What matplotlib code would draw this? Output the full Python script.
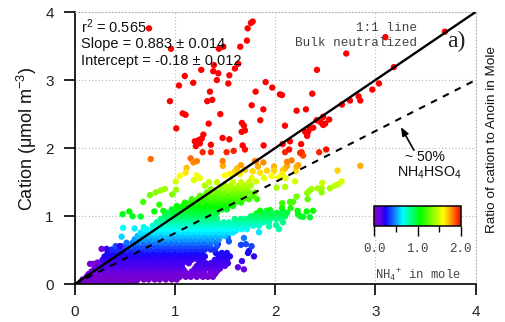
import matplotlib
matplotlib.use("Agg")
import matplotlib.pyplot as plt
from matplotlib.colors import LinearSegmentedColormap
from matplotlib.ticker import MultipleLocator

plt.rcParams['font.family'] = ['Liberation Sans', 'DejaVu Sans']
plt.rcParams['mathtext.default'] = 'regular'

# sparse red / orange / yellow / green points read one by one
red_pts = [(0.743,3.76),(0.962,3.46),(1.777,3.86),(1.76,3.84),(1.727,3.76),(1.72,3.58),(1.653,3.49),(1.484,3.49),(1.44,3.46),
 (1.39,3.22),(1.633,3.24),(1.60,3.17),(1.544,3.07),(1.534,2.95),(1.434,3.10),(1.384,3.13),(1.42,3.0),(1.264,3.15),(1.10,3.06),
 (1.184,2.96),(1.042,2.92),(0.952,2.69),(1.351,2.83),(1.324,2.69),(1.374,2.71),(1.767,2.63),(1.806,2.83),(1.906,2.97),(1.972,2.89),
 (2.049,2.79),(1.883,2.57),(1.853,2.41),(1.454,2.50),(1.079,2.51),(1.108,2.49),(1.338,2.36),(1.015,2.29),(1.67,2.37),(1.69,2.33),
 (1.667,2.24),(1.70,2.26),(1.477,2.15),(1.544,2.13),(1.886,2.04),(1.285,2.20),(1.268,2.14),(1.224,2.10),(1.25,2.07),(1.21,2.03),
 (1.24,2.12),(1.20,2.10),(1.36,2.05),(1.677,2.04),
 (3.694,3.71),(3.10,3.63),(2.71,3.39),(2.418,3.15),(3.185,3.19),(3.036,2.95),(2.97,2.86),(2.833,2.76),(2.85,2.70),(2.747,2.70),
 (2.667,2.64),(2.371,2.80),(2.069,2.78),(2.308,2.57),(2.215,2.55),(2.099,2.33),(2.54,2.42),(2.48,2.46),(2.455,2.38),(2.48,2.34),
 (2.415,2.41),(2.348,2.29),(2.30,2.24),(2.32,2.18),(2.38,2.30),(2.149,2.10),(2.076,2.06),(2.33,2.24),(2.50,2.36),(2.26,2.06)]
orange_pts = [(0.76,1.84),(1.158,1.85),(1.185,1.79),(1.22,1.81),(1.278,1.94),(1.36,1.94),(1.517,1.94),(1.587,1.96),(1.70,1.98),
 (1.81,1.81),(2.10,1.94),(2.14,1.98),(2.265,1.94),(2.28,1.89),(2.25,1.93),(2.44,1.94),(2.51,1.98),(2.165,1.82),(2.12,1.80),
 (2.23,1.75),(2.215,1.73),(1.477,1.81),(1.66,1.75)]
yellow_pts = [(1.883,1.79),(1.83,1.73),(1.80,1.81),(1.99,1.73),(1.99,1.67),(1.92,1.67),(1.85,1.64),(1.777,1.66),(2.08,1.68),
 (2.10,1.70),(2.12,1.74),(2.07,1.62),(2.205,1.66),(2.624,1.67),(2.85,1.74),(1.767,1.56),(1.89,1.56),(1.81,1.51),(1.966,1.59),
 (2.105,1.56),(2.04,1.57),(2.20,1.51),(2.015,1.42),(2.10,1.43),(1.218,1.60),(1.25,1.56),(1.19,1.53),(1.05,1.59),(1.01,1.51),
 (1.118,1.71),(1.108,1.64),(1.55,1.62),(1.60,1.66),(1.65,1.62),(1.70,1.68),(1.50,1.60),(1.62,1.70),(1.48,1.74)]
green_pts = [(2.47,1.49),(2.465,1.41),(2.425,1.41),(2.465,1.35),(2.365,1.40),(2.32,1.34),(2.34,1.37),(2.325,1.25),(2.547,1.41),
 (2.597,1.45),(2.63,1.47),(2.664,1.51),(2.215,1.29),(2.149,1.21),(2.18,1.21),(2.07,1.19),(2.07,1.12),(2.155,1.12),(2.08,1.07),
 (2.225,1.08),(2.315,1.07),(2.38,1.08),(2.25,1.0),(2.348,0.985),(2.23,1.03),(2.28,0.99),(1.916,1.08),(1.95,1.09),(1.85,1.08),
 (1.99,1.02),(1.816,1.04),(1.883,1.02),(1.767,1.0),(0.902,1.40),(0.86,1.38),(0.81,1.35),(0.753,1.31),(0.685,1.21),(0.975,1.32),
 (1.012,1.39),(0.845,1.17),(0.796,1.07),(0.886,1.08),(0.48,1.03),(0.546,1.07),(0.58,1.0),(0.66,0.995)]
# sparse lower-right points and cyan stragglers: x, y, colour value
outer_pts = [(1.79,0.41,.22),(1.73,0.46,.26),(1.74,0.49,.28),(1.766,0.56,.36),(1.71,0.59,.38),(1.66,0.58,.36),(1.69,0.68,.46),(1.84,0.765,.62),(1.67,0.34,.2),
 (1.63,0.25,.14),(1.69,0.22,.12),(1.53,0.69,.44),(1.54,0.63,.4),(1.43,0.59,.32),(1.61,0.79,.62),(1.94,0.85,.8),(2.01,0.87,.82),(2.04,0.81,.8),(2.08,0.91,.86),
 (0.47,0.70,.6),(0.485,0.83,.66),(0.60,0.82,.64),(0.69,0.84,.7)]
# purple outliers on the left edge: low ammonium although high on the y axis
outlier_x = [0.27, 0.155, 0.19, 0.23, 0.32, 0.45]
outlier_y = [0.52, 0.30, 0.30, 0.32, 0.52, 0.56]
outlier_c = [0.06, 0.06, 0.06, 0.10, 0.22, 0.22]

# dense cloud, read row by row (y value, colour value, x values in that row)
dense_rows = [
 (0.03,.01,[.06,.11,.16,.22,.27,.33,.38,.44,.49,.55,.61]),
 (0.07,.02,[.08,.13,.19,.24,.30,.35,.41,.46,.52,.58,.63,.69,.74,.80,.85,.91,.97,1.02]),
 (0.11,.04,[.12,.17,.23,.28,.34,.39,.45,.50,.56,.61,.67,.72,.78,.83,.89,.94,1.0,1.05,1.11,1.16,1.22,1.28,1.33,1.38]),
 (0.15,.07,[.14,.20,.25,.31,.36,.42,.48,.53,.59,.64,.70,.75,.81,.86,.92,.97,1.03,1.08,1.14,1.19,1.25,1.30,1.36,1.40]),
 (0.19,.10,[.17,.22,.28,.33,.39,.44,.50,.55,.61,.66,.72,.77,.83,.88,.94,.99,1.05,1.10,1.17,1.23,1.29,1.36,1.42]),
 (0.23,.14,[.20,.26,.31,.37,.42,.48,.53,.59,.65,.70,.76,.81,.87,.92,.98,1.03,1.08,1.20,1.26,1.31,1.38,1.45]),
 (0.27,.16,[.22,.28,.33,.39,.44,.50,.56,.61,.67,.72,.78,.83,.89,.95,1.0,1.06,1.22,1.28,1.34,1.40,1.46,1.50]),
 (0.31,.18,[.25,.30,.36,.41,.47,.52,.58,.63,.69,.74,.80,.85,.91,.96,1.02,1.08,1.14,1.25,1.31,1.36,1.42,1.48,1.53]),
 (0.36,.20,[.28,.33,.39,.44,.50,.55,.61,.66,.72,.77,.83,.88,.94,.99,1.05,1.11,1.17,1.23,1.28,1.40,1.46,1.52]),
 (0.41,.24,[.30,.36,.41,.47,.52,.58,.63,.69,.74,.80,.86,.91,.97,1.02,1.08,1.13,1.19,1.24,1.30,1.44,1.50,1.55]),
 (0.46,.28,[.33,.39,.45,.50,.56,.61,.67,.72,.78,.83,.89,.94,1.0,1.05,1.11,1.16,1.22,1.27,1.41,1.47,1.52]),
 (0.51,.33,[.37,.42,.48,.53,.59,.64,.70,.75,.81,.86,.92,.97,1.03,1.08,1.14,1.19,1.25,1.30,1.36,1.40]),
 (0.56,.38,[.41,.47,.52,.58,.63,.69,.74,.80,.85,.91,.96,1.02,1.07,1.13,1.18,1.24,1.29,1.35,1.42]),
 (0.61,.44,[.52,.58,.63,.69,.75,.80,.86,.91,.97,1.02,1.08,1.13,1.19,1.24,1.30,1.35,1.41]),
 (0.66,.50,[.60,.66,.71,.77,.82,.88,.93,.99,1.04,1.10,1.15,1.21,1.26,1.32,1.37,1.44]),
 (0.71,.56,[.63,.69,.74,.80,.85,.91,.96,1.02,1.07,1.13,1.18,1.24,1.29,1.35,1.40,1.46,1.50]),
 (0.76,.62,[.66,.72,.78,.83,.89,.94,1.0,1.05,1.11,1.16,1.22,1.27,1.33,1.38,1.44,1.49,1.55,1.58]),
 (0.81,.66,[.72,.78,.84,.89,.95,1.0,1.06,1.11,1.17,1.22,1.28,1.33,1.39,1.44,1.50,1.55,1.61,1.67,1.72]),
 (0.86,.72,[.78,.84,.90,.95,1.01,1.06,1.12,1.17,1.23,1.28,1.34,1.39,1.45,1.50,1.56,1.61,1.67,1.72,1.78,1.84]),
 (0.91,.78,[.82,.88,.94,.99,1.05,1.10,1.16,1.21,1.27,1.32,1.38,1.43,1.49,1.54,1.60,1.65,1.71,1.76,1.82,1.88,1.94]),
 (0.96,.84,[.86,.92,.98,1.03,1.09,1.14,1.20,1.25,1.31,1.36,1.42,1.60,1.66,1.71,1.77,1.83,1.89,1.95,2.01,2.06]),
 (1.00,.90,[.90,.96,1.01,1.07,1.12,1.18,1.23,1.29,1.34,1.39,1.76,1.82,1.88,1.93,1.98,2.05,2.10]),
 (1.05,.96,[.92,.98,1.04,1.09,1.15,1.20,1.26,1.31,1.37,1.42,1.90,1.96,2.02,2.08,2.12]),
 (1.10,1.0,[.97,1.03,1.08,1.14,1.19,1.25,1.30,1.36,1.41,1.47,1.52]),
 (1.15,1.06,[1.02,1.08,1.13,1.19,1.24,1.30,1.35,1.41,1.46,1.52,1.58]),
 (1.20,1.12,[1.10,1.16,1.21,1.27,1.32,1.38,1.43,1.49,1.54,1.60,1.66]),
 (1.25,1.18,[1.17,1.23,1.28,1.34,1.39,1.45,1.50,1.56,1.62,1.68,1.74,1.82]),
 (1.30,1.24,[1.25,1.30,1.36,1.41,1.47,1.53,1.58,1.64,1.70,1.78]),
 (1.35,1.30,[1.32,1.38,1.43,1.49,1.56,1.62,1.68,1.74,1.80]),
 (1.40,1.36,[1.36,1.47,1.54,1.60,1.66,1.72]),
 (1.45,1.42,[1.30,1.50,1.56,1.64,1.70,1.76]),
 (1.50,1.48,[1.34,1.42,1.58,1.66,1.74]),
]

x_ticks = [0, 1, 2, 3, 4]
y_ticks = [0, 1, 2, 3, 4]
line_x = [0, 4]
line_11_y = [0, 4]
line_half_y = [0, 3]
cbar_ticks = [0, 1, 2]

cmap = LinearSegmentedColormap.from_list('nh4', [(0, '#7a00c8'), (0.05, '#7000e0'), (0.13, '#1c00ff'),
    (0.33, '#00ffff'), (0.53, '#00ff00'), (0.8, '#ffff00'), (0.9, '#ff8800'), (1.0, '#ff0000')])

W, H = 505, 322
fig = plt.figure(figsize=(W/100, H/100), dpi=100)
ax = fig.add_axes([74.5/W, 1-284.3/H, (475.6-74.5)/W, (284.3-12)/H])
ax.set_xlim(0, 4); ax.set_ylim(0, 4)
ax.set_xticks(x_ticks); ax.set_yticks(y_ticks)
ax.grid(True, color='#b8b8b8', lw=0.8, ls=(0, (1, 2)), zorder=0)
ax.set_axisbelow(True)
for s in ['top', 'right']:
    ax.spines[s].set_color('#b8b8b8'); ax.spines[s].set_linewidth(0.8); ax.spines[s].set_linestyle((0, (1, 2)))
for s in ['left', 'bottom']:
    ax.spines[s].set_linewidth(1.2)
ax.tick_params(length=8, width=1.2, labelsize=11, pad=7, labelcolor='#222222')

xs, ys, cs = [], [], []
for group in (green_pts, yellow_pts, orange_pts, red_pts):
    xs += [p[0] for p in group]; ys += [p[1] for p in group]; cs += [p[1] for p in group]
xs += [p[0] for p in outer_pts]; ys += [p[1] for p in outer_pts]; cs += [p[2] for p in outer_pts]
for yv, cv, row in dense_rows:
    xs += row; ys += [yv] * len(row); cs += [cv] * len(row)
sc = ax.scatter(xs, ys, c=cs, cmap=cmap, vmin=0, vmax=2, s=21, linewidths=0, zorder=2)
ax.scatter(outlier_x, outlier_y, c=outlier_c, cmap=cmap, vmin=0, vmax=2, s=21, linewidths=0, zorder=2)

ax.plot(line_x, line_11_y, color='black', lw=1.7, zorder=3, solid_capstyle='butt')
ax.plot(line_x, line_half_y, color='black', lw=1.5, ls=(0, (3.2, 3.2)), zorder=3)

def ftext(px, py, s, **kw):
    return fig.text(px/W, 1-py/H, s, **kw)

ftext(81, 27, 'r$^{2}$ = 0.565', fontsize=10.5, va='center', color='#111111')
ftext(81, 44, 'Slope = 0.883 ± 0.014', fontsize=10.5, va='center', color='#111111')
ftext(81, 61, 'Intercept = -0.18 ± 0.012', fontsize=10.5, va='center', color='#111111')
ftext(417, 28, '1:1 line', fontsize=9.1, family='Liberation Mono', ha='right', va='center', color='#444444')
ftext(417, 43, 'Bulk neutralized', fontsize=9.1, family='Liberation Mono', ha='right', va='center', color='#444444')
ftext(447, 41, 'a)', fontsize=17, family='Liberation Serif', va='center', color='#222222')
ftext(425, 157, '~ 50%', fontsize=10, ha='center', va='center', color='#111111')
ftext(430, 173, 'NH$_{4}$HSO$_{4}$', fontsize=10.3, ha='center', va='center', color='#111111')
ftext(27, 139, 'Cation ($\\mu$mol m$^{-3}$)', fontsize=13, rotation=90, ha='center', va='center', color='#111111')
ftext(492, 140, 'Ratio of cation to Anoin in Mole', fontsize=9.7, rotation=90, ha='center', va='center', color='#111111')
ftext(418, 275, 'NH$_{4}$$^{+}$ in mole', fontsize=8.8, family='Liberation Mono', ha='center', va='center', color='#444444')

ax.annotate('', xy=(3.255, 2.31), xytext=(3.385, 1.97),
            arrowprops=dict(arrowstyle='-|>,head_length=0.5,head_width=0.2', color='black', lw=1.2, shrinkA=0, shrinkB=0), zorder=4)

cax = fig.add_axes([374.3/W, 1-226/H, (460.7-374.3)/W, 20.3/H])
cb = fig.colorbar(sc, cax=cax, orientation='horizontal')
cb.set_ticks(cbar_ticks)
cb.set_ticklabels(['0.0', '1.0', '2.0'])
cb.outline.set_linewidth(1.1)
cax.xaxis.set_minor_locator(MultipleLocator(0.5))
cax.tick_params(axis='x', which='major', length=7.5, width=1, labelsize=9, pad=5, labelcolor='#444444')
cax.tick_params(axis='x', which='minor', length=4, width=1)
for t in cax.get_xticklabels():
    t.set_family('Liberation Mono')

fig.savefig('out.png', dpi=100)
